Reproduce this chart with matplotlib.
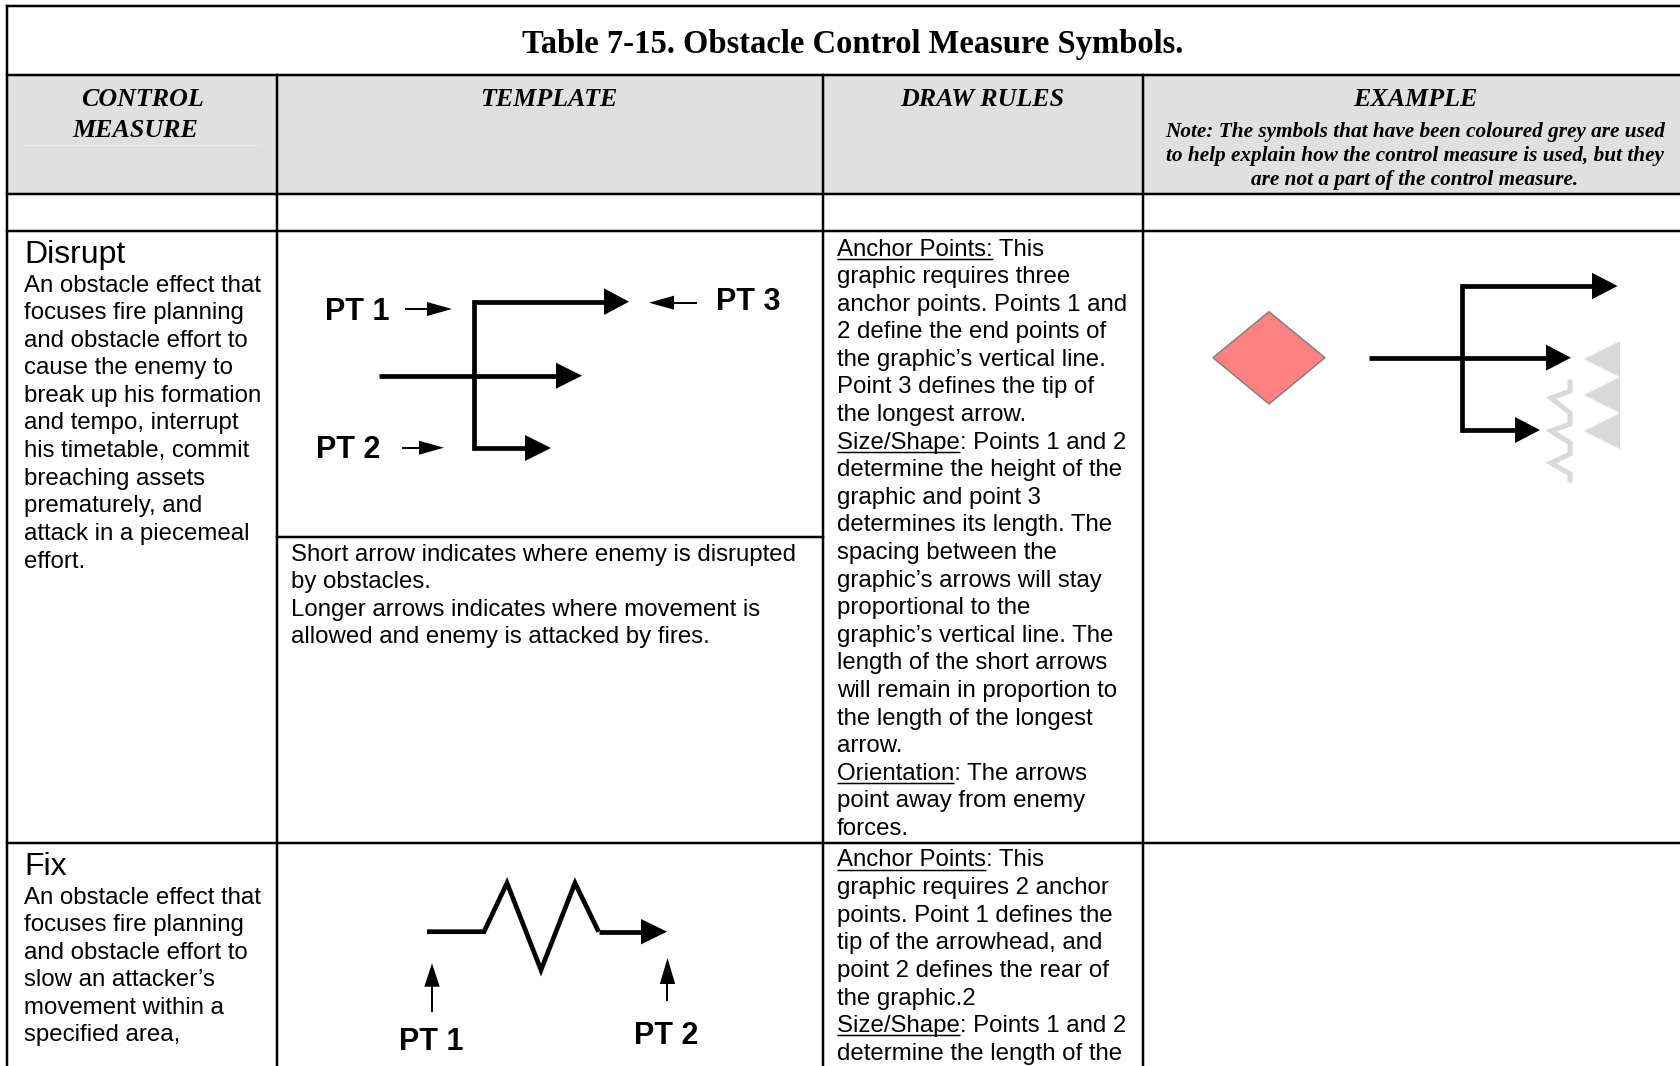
import matplotlib
matplotlib.use("Agg")
import matplotlib.pyplot as plt
from matplotlib.patches import Polygon, Rectangle

W, H = 1681, 1066

# Table grid (pixel positions on the page)
col_x = [7, 277, 823, 1143]
row_y = [6, 75, 194, 231, 843]
template_split_y = 537

title = "Table 7-15. Obstacle Control Measure Symbols."
headers = [("CONTROL", 142, 106), ("MEASURE", 135, 137), ("TEMPLATE", 549, 106),
           ("DRAW RULES", 982, 106), ("EXAMPLE", 1415, 106)]
note_lines = ["Note: The symbols that have been coloured grey are used",
              "to help explain how the control measure is used, but they",
              "are not a part of the control measure."]

# Row 1: Disrupt
disrupt_name = "Disrupt"
disrupt_desc = ["An obstacle effect that", "focuses fire planning", "and obstacle effort to",
                "cause the enemy to", "break up his formation", "and tempo, interrupt",
                "his timetable, commit", "breaching assets", "prematurely, and",
                "attack in a piecemeal", "effort."]
disrupt_note = ["Short arrow indicates where enemy is disrupted", "by obstacles.",
                "Longer arrows indicates where movement is",
                "allowed and enemy is attacked by fires."]
# (underlined prefix, rest of line)
disrupt_rules = [("Anchor Points:", " This"), ("", "graphic requires three"),
                 ("", "anchor points. Points 1 and"), ("", "2 define the end points of"),
                 ("", "the graphic\u2019s vertical line."), ("", "Point 3 defines the tip of"),
                 ("", "the longest arrow."), ("Size/Shape", ": Points 1 and 2"),
                 ("", "determine the height of the"), ("", "graphic and point 3"),
                 ("", "determines its length. The"), ("", "spacing between the"),
                 ("", "graphic\u2019s arrows will stay"), ("", "proportional to the"),
                 ("", "graphic\u2019s vertical line. The"), ("", "length of the short arrows"),
                 ("", "will remain in proportion to"), ("", "the length of the longest"),
                 ("", "arrow."), ("Orientation", ": The arrows"),
                 ("", "point away from enemy"), ("", "forces.")]

# Row 2: Fix
fix_name = "Fix"
fix_desc = ["An obstacle effect that", "focuses fire planning", "and obstacle effort to",
            "slow an attacker\u2019s", "movement within a", "specified area,"]
fix_rules = [("Anchor Points", ": This"), ("", "graphic requires 2 anchor"),
             ("", "points. Point 1 defines the"), ("", "tip of the arrowhead, and"),
             ("", "point 2 defines the rear of"), ("", "the graphic.2"),
             ("Size/Shape", ": Points 1 and 2"), ("", "determine the length of the")]

# Disrupt template symbol: x0, y0, tip x, tip y, head length, head half width
disrupt_stem = [(473.6, 301.7), (473.6, 448)]
disrupt_arrows = [(473.6, 301.7, 629, 301.7, 25, 13.3),
                  (379, 375.7, 582, 375.7, 26, 13),
                  (473.6, 448, 551, 448, 26, 13)]
disrupt_pt_arrows = [(405, 309, 452, 309, 25, 7),
                     (402, 447.7, 444, 447.7, 25, 7),
                     (697, 302.7, 649, 302.7, 25, 7)]
disrupt_pt_labels = [("PT 1", 325, 320), ("PT 2", 316, 458), ("PT 3", 716, 310)]

# Fix template symbol
fix_path = [(427, 931.7), (484, 931.7), (507, 883), (541, 970), (575, 883), (598.6, 931.7)]
fix_arrow = (598.6, 931.7, 667, 931.7, 26, 12.7)
fix_pt_arrows = [(432, 1011.7, 432, 963.3, 23.4, 7.7),
                 (667.5, 1001, 667.5, 958, 26, 7.7)]
fix_pt_labels = [("PT 1", 398.6, 1050), ("PT 2", 634, 1044)]

# Example column (Disrupt)
ex_stem = [(1462, 286), (1462, 430)]
ex_arrows = [(1462, 286, 1617.6, 286, 25.6, 13.2),
             (1368.6, 357.7, 1571, 357.7, 25, 13),
             (1462, 430, 1540, 430, 25, 13)]
ex_diamond = [(1213, 357.7), (1269, 311.7), (1325, 357.7), (1269, 404)]
ex_teeth_top = [341, 377, 413]
ex_teeth_x = (1584, 1620)
ex_teeth_h = 36
ex_wire = [(1570, 382), (1570, 391), (1551, 398), (1570, 413), (1570, 424), (1551, 431),
           (1570, 443), (1570, 454), (1551, 463), (1570, 474), (1570, 480)]

PX = 1 / 1.389  # pixels -> points at 100 dpi
SANS = "Liberation Sans"
SERIF = "Liberation Serif"
LINE = 27.6


def arrow(ax, x0, y0, x1, y1, hl, hw, lw, color="black"):
    dx, dy = x1 - x0, y1 - y0
    n = (dx * dx + dy * dy) ** 0.5
    ux, uy = dx / n, dy / n
    bx, by = x1 - ux * hl, y1 - uy * hl
    ax.plot([x0, bx + ux], [y0, by + uy], color=color, lw=lw, solid_capstyle="butt")
    px, py = -uy, ux
    ax.add_patch(Polygon([[x1, y1], [bx + px * hw, by + py * hw], [bx - px * hw, by - py * hw]],
                         closed=True, facecolor=color, edgecolor="none"))


def rich_lines(ax, x, y0, lines, renderer):
    for i, (under, rest) in enumerate(lines):
        y = y0 + i * LINE
        ax.text(x, y, under + rest, fontsize=17.3, family=SANS, va="baseline", ha="left")
        if under:
            t = ax.text(x, y, under, fontsize=17.3, family=SANS, va="baseline", ha="left", alpha=0)
            bb = t.get_window_extent(renderer)
            ax.plot([bb.x0, bb.x1], [y + 3, y + 3], color="black", lw=1.5 * PX,
                    solid_capstyle="butt")


def plain_lines(ax, x, y0, lines):
    for i, s in enumerate(lines):
        ax.text(x, y0 + i * LINE, s, fontsize=17.3, family=SANS, va="baseline", ha="left")


fig = plt.figure(figsize=(W / 100, H / 100), dpi=100)
ax = fig.add_axes([0, 0, 1, 1])
ax.set_xlim(0, W)
ax.set_ylim(H, 0)
ax.axis("off")
renderer = fig.canvas.get_renderer()

# header background
ax.add_patch(Rectangle((col_x[0], row_y[1]), W - col_x[0], row_y[2] - row_y[1],
                       facecolor="#e0e0e0", edgecolor="none"))
ax.plot([24, 260], [145, 145], color="#ebebeb", lw=1 * PX)

# grid lines
blw = 2.5 * PX
for y in row_y:
    ax.plot([col_x[0], W], [y, y], color="black", lw=blw, solid_capstyle="projecting")
ax.plot([col_x[0], col_x[0]], [row_y[0], H], color="black", lw=blw, solid_capstyle="projecting")
for x in col_x[1:]:
    ax.plot([x, x], [row_y[1], H], color="black", lw=blw, solid_capstyle="projecting")
ax.plot([col_x[1], col_x[2]], [template_split_y, template_split_y], color="black", lw=blw)

# title and headers
ax.text(853, 53, title, fontsize=23.5, family=SERIF, weight="bold", ha="center", va="baseline")
for s, x, y in headers:
    ax.text(x, y, s, fontsize=18.7, family=SERIF, weight="bold", style="italic",
            ha="center", va="baseline")
for i, s in enumerate(note_lines):
    ax.text(1415, 136.5 + i * 24.4, s, fontsize=15.3, family=SERIF, weight="bold",
            style="italic", ha="center", va="baseline")

# first column
ax.text(24, 263, disrupt_name, fontsize=23, family=SANS, va="baseline")
plain_lines(ax, 24, 291.5, disrupt_desc)
ax.text(24, 875, fix_name, fontsize=23, family=SANS, va="baseline")
plain_lines(ax, 24, 903.5, fix_desc)

# template column
plain_lines(ax, 291, 560.5, disrupt_note)

# draw rules column
rich_lines(ax, 837, 255.5, disrupt_rules, renderer)
rich_lines(ax, 837, 866.5, fix_rules, renderer)

# disrupt template symbol
slw = 4.7 * PX
ax.plot(*zip(*disrupt_stem), color="black", lw=slw, solid_capstyle="projecting")
for a in disrupt_arrows:
    arrow(ax, *a, lw=slw)
for a in disrupt_pt_arrows:
    arrow(ax, *a, lw=2 * PX)
for s, x, y in disrupt_pt_labels:
    ax.text(x, y, s, fontsize=22, family=SANS, weight="bold", va="baseline")

# fix template symbol
fx = [p[0] for p in fix_path]
fy = [p[1] for p in fix_path]
ax.plot(fx, fy, color="black", lw=slw, solid_joinstyle="miter", solid_capstyle="butt")
arrow(ax, *fix_arrow, lw=slw)
for a in fix_pt_arrows:
    arrow(ax, *a, lw=2 * PX)
for s, x, y in fix_pt_labels:
    ax.text(x, y, s, fontsize=22, family=SANS, weight="bold", va="baseline")

# example
ax.add_patch(Polygon(ex_diamond, closed=True, facecolor="#ff8080", edgecolor="#808080",
                     lw=1.5 * PX))
for top in ex_teeth_top:
    ax.add_patch(Polygon([(ex_teeth_x[1], top), (ex_teeth_x[0], top + ex_teeth_h / 2),
                          (ex_teeth_x[1], top + ex_teeth_h)], closed=True,
                         facecolor="#d9d9d9", edgecolor="none"))
ax.plot([p[0] for p in ex_wire], [p[1] for p in ex_wire], color="#d9d9d9", lw=5 * PX,
        solid_joinstyle="miter")
ax.plot(*zip(*ex_stem), color="black", lw=slw, solid_capstyle="projecting")
for a in ex_arrows:
    arrow(ax, *a, lw=slw)

fig.savefig("out.png", dpi=100)
